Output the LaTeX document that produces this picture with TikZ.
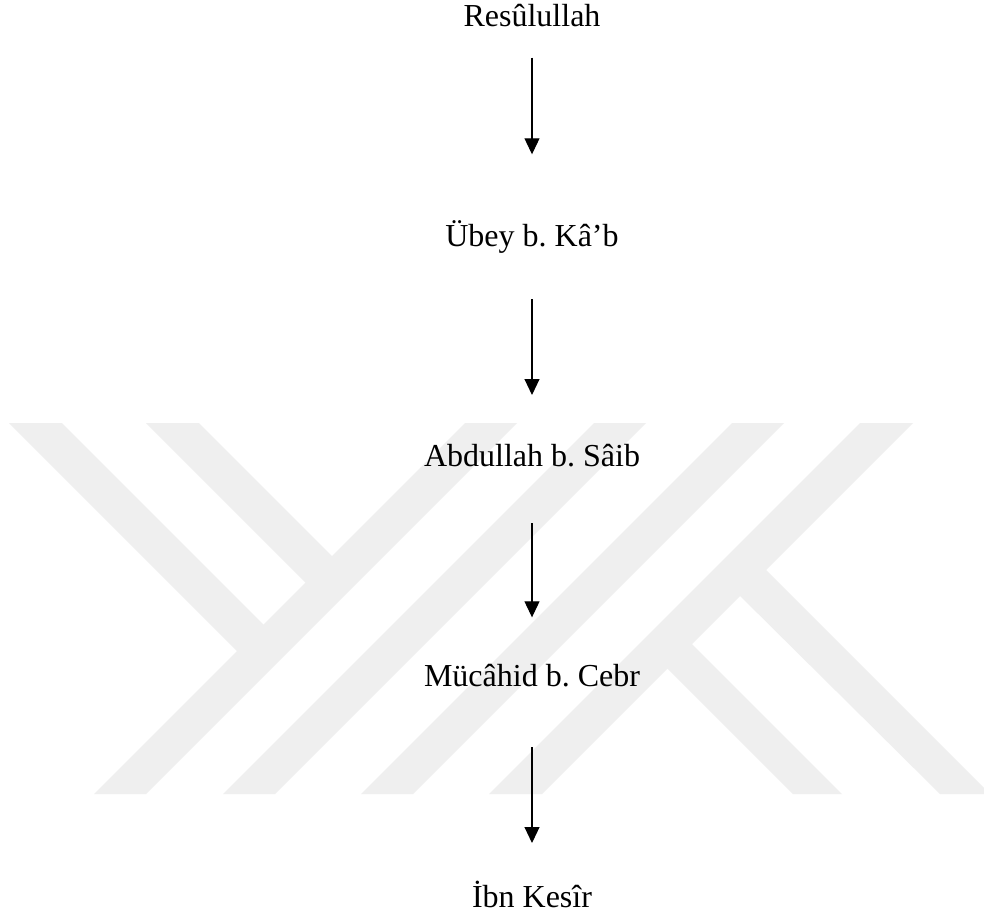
\documentclass[tikz,border=0pt]{standalone}
\usepackage{fontspec}
\setmainfont{Liberation Serif}
\usetikzlibrary{arrows.meta}
\definecolor{wm}{RGB}{239,239,239}
\frenchspacing
\begin{document}
\begin{tikzpicture}[x=1bp,y=-1bp,
  lbl/.style={font=\fontsize{32bp}{38bp}\selectfont\frenchspacing, inner sep=0pt, anchor=base, text=black},
  arr/.style={line width=1.1bp, draw=black, -{Triangle[width=15bp,length=16bp]}},
  wmark/.style={fill=wm, draw=none}]
\useasboundingbox (0,0) rectangle (984,919);
\fill[white] (0,0) rectangle (984,919);
\begin{scope}
  \clip (0,0) rectangle (984,919);
  % Y
  \fill[wmark] (9,423) -- (62,423) -- (269.5,630.5) -- (243,657) -- cycle;
  \fill[wmark] (146,423) -- (199,423) -- (338,562) -- (311.5,588.5) -- cycle;
  \fill[wmark] (465,423) -- (517,423) -- (146,794) -- (94,794) -- cycle;
  % parallel strokes
  \fill[wmark] (594,423) -- (646,423) -- (275,794) -- (223,794) -- cycle;
  \fill[wmark] (732,423) -- (784,423) -- (413,794) -- (361,794) -- cycle;
  % K
  \fill[wmark] (860,423) -- (913,423) -- (542,794) -- (489,794) -- cycle;
  \fill[wmark] (684,636) -- (842,794) -- (793,794) -- (659.5,660.5) -- cycle;
  \fill[wmark] (758,562) -- (990,794) -- (940,794) -- (732,588) -- cycle;
\end{scope}
\node[lbl] (n1) at (532,26.7) {Resûlullah};
\node[lbl] (n2) at (532,246.7) {Übey b. Kâ’b};
\node[lbl] (n3) at (532,466.7) {Abdullah b. Sâib};
\node[lbl] (n4) at (532,686.7) {Mücâhid b. Cebr};
\node[lbl] (n5) at (532,907.5) {İbn Kesîr};
\begin{scope}[xshift=-0.5bp]
\draw[arr, shorten <=31bp, shorten >=92.4bp] (n1.base) -- (n2.base);
\draw[arr, shorten <=52.6bp, shorten >=71.7bp] (n2.base) -- (n3.base);
\draw[arr, shorten <=56.6bp, shorten >=69.4bp] (n3.base) -- (n4.base);
\draw[arr, shorten <=60.6bp, shorten >=64.5bp] (n4.base) -- (n5.base);
\end{scope}
\end{tikzpicture}
\end{document}
